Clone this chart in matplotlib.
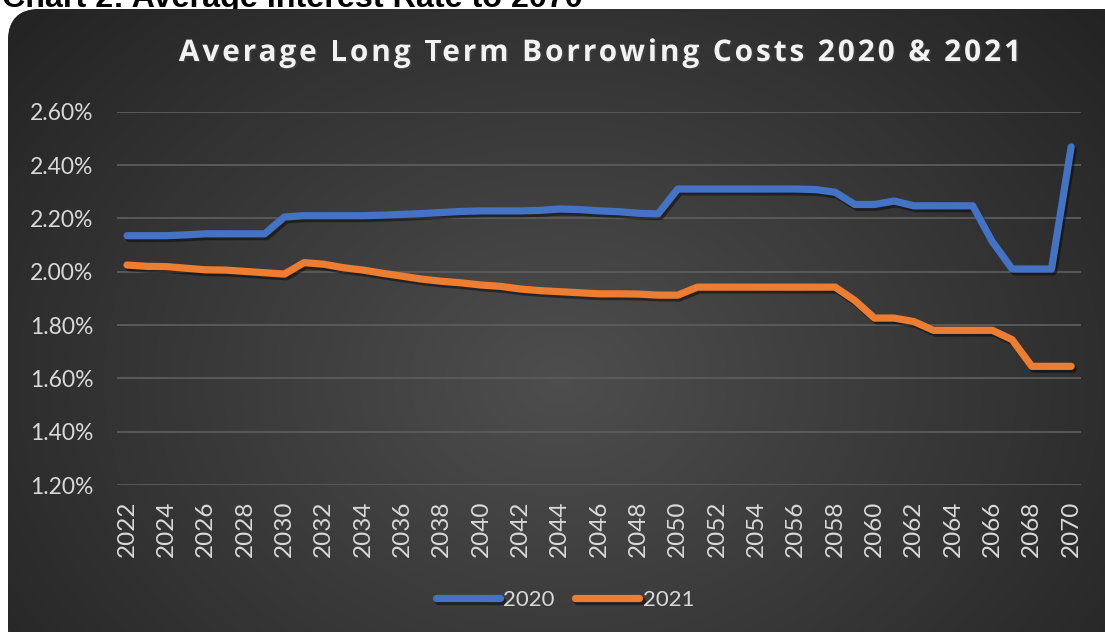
import numpy as np
import matplotlib
matplotlib.use("Agg")
import matplotlib.pyplot as plt
import matplotlib.patheffects as pe
from matplotlib.patches import FancyBboxPatch

# data
years = list(range(2022, 2071))
rate_2020 = [2.135, 2.135, 2.135, 2.138, 2.142, 2.142, 2.142, 2.142,
             2.205, 2.210, 2.210, 2.210, 2.210, 2.212, 2.215, 2.218, 2.222, 2.226,
             2.228, 2.228, 2.228, 2.230, 2.235, 2.233, 2.228, 2.225, 2.219, 2.217,
             2.310, 2.310, 2.310, 2.310, 2.310, 2.310, 2.310, 2.308, 2.298, 2.252,
             2.252, 2.265, 2.247, 2.247, 2.247, 2.247, 2.112, 2.010, 2.010, 2.010,
             2.468]
rate_2021 = [2.025, 2.020, 2.019, 2.013, 2.007, 2.006, 2.001, 1.996,
             1.991, 2.034, 2.028, 2.015, 2.006, 1.994, 1.983, 1.972, 1.964, 1.958,
             1.950, 1.945, 1.935, 1.929, 1.925, 1.921, 1.917, 1.917, 1.916, 1.912,
             1.912, 1.942, 1.942, 1.942, 1.942, 1.942, 1.942, 1.942, 1.942, 1.892,
             1.826, 1.826, 1.813, 1.780, 1.780, 1.780, 1.780, 1.745, 1.645, 1.645,
             1.645]
series_names = ["2020", "2021"]
series_colors = ["#4472C4", "#ED7D31"]
y_ticks = [1.2, 1.4, 1.6, 1.8, 2.0, 2.2, 2.4, 2.6]
x_ticks = list(range(2022, 2071, 2))
title = "Average Long Term Borrowing Costs 2020 & 2021"
caption = "Chart 2: Average Interest Rate to 2070"

W, H = 1105, 632
fig = plt.figure(figsize=(W / 100, H / 100), dpi=100)
fig.patch.set_facecolor("white")

# background layer in pixel coordinates
bg = fig.add_axes([0, 0, 1, 1])
bg.set_xlim(0, W)
bg.set_ylim(H, 0)
bg.axis("off")

# caption of the document, cut off at the top edge like in the source
bg.text(2, 7, caption, fontsize=23.2, fontweight="bold", family="Liberation Sans",
        color="black", ha="left", va="baseline", zorder=1)

# dark rounded panel with radial gradient
box = FancyBboxPatch((8, 9), 1125, 650, boxstyle="round,pad=0,rounding_size=32",
                     facecolor="#2a2a2a", edgecolor="none", zorder=2)
bg.add_patch(box)
yy, xx = np.mgrid[0:H, 0:W]
r = np.sqrt(((xx - 560) / 620.0) ** 2 + ((yy - 380) / 480.0) ** 2)
v = 0.305 - (0.305 - 0.141) * np.clip(r / 1.15, 0, 1)
img = bg.imshow(np.dstack([v, v, v]), extent=(0, W, H, 0), zorder=3, aspect="auto")
img.set_clip_path(box)

# chart title, drawn char by char to get the letter spacing
renderer = fig.canvas.get_renderer()
tkw = dict(fontsize=21.5, fontweight="bold", family="Open Sans", color="#f2f2f2",
           va="baseline", ha="left", zorder=5,
           path_effects=[pe.withSimplePatchShadow(offset=(1.2, -1.2), alpha=0.5)])

def text_w(s):
    t = bg.text(0, 0, s, **tkw)
    w = t.get_window_extent(renderer).width
    t.remove()
    return w

spacing = 2.85
full_w = text_w(title) + spacing * (len(title) - 1)
x0 = 600 - full_w / 2
for i, ch in enumerate(title):
    if ch == " ":
        continue
    xl = x0 + text_w(title[:i + 1]) - text_w(ch) + i * spacing
    bg.text(xl, 61, ch, **tkw)

# plot area
ax = fig.add_axes([117.2 / W, 1 - 485 / H, (1081 - 117.2) / W, (485 - 111.7) / H])
ax.patch.set_alpha(0)
for s in ax.spines.values():
    s.set_visible(False)

for vals, name, col in zip([rate_2020, rate_2021], series_names, series_colors):
    ax.plot(years, vals, color=col, lw=5.2, label=name, solid_capstyle="round",
            solid_joinstyle="round", zorder=3,
            path_effects=[pe.SimpleLineShadow(offset=(1.5, -2), shadow_color="black", alpha=0.45),
                          pe.Normal()])

ax.set_xlim(2021.5, 2070.5)
ax.set_ylim(1.2, 2.6)
ax.set_yticks(y_ticks)
ax.set_yticklabels([f"{t:.2f}%" for t in y_ticks])
ax.set_xticks(x_ticks)
ax.set_xticklabels([str(t) for t in x_ticks], rotation=90, va="top", ha="center")
ax.grid(axis="y", color="#5c5c5c", lw=1.3)
ax.set_axisbelow(True)
ax.tick_params(axis="y", length=0, pad=17, labelsize=16.5, labelcolor="#d9d9d9")
ax.tick_params(axis="x", length=0, pad=11, labelsize=17.5, labelcolor="#d9d9d9")
for lab in ax.get_xticklabels() + ax.get_yticklabels():
    lab.set_family("Lato")

leg = ax.legend(loc="center", bbox_to_anchor=(565 / W, 1 - 600 / H),
                bbox_transform=fig.transFigure, ncol=2, frameon=False,
                handlelength=2.9, handletextpad=0.15, columnspacing=0.9,
                prop={"family": "Lato", "size": 16})
for t in leg.get_texts():
    t.set_color("#d9d9d9")

fig.savefig("out.png", dpi=100, facecolor="white")
